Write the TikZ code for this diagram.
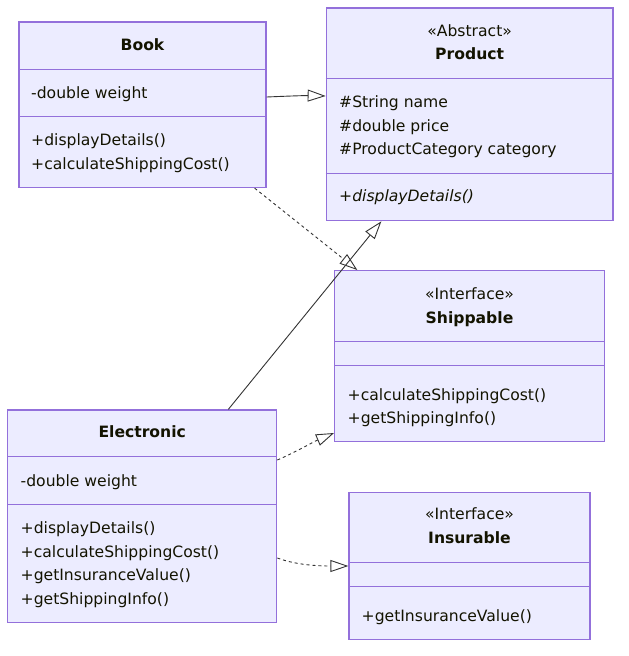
\documentclass[tikz,border=0pt]{standalone}
\usepackage{fontspec}
\setmainfont{DejaVu Sans}
\usetikzlibrary{arrows.meta,calc}
\definecolor{boxfill}{HTML}{ECECFF}
\definecolor{boxline}{HTML}{9370DB}
\definecolor{edgec}{HTML}{333333}
\definecolor{txtc}{HTML}{131300}
\begin{document}
\begin{tikzpicture}[x=1pt,y=-1pt,
 umlbox/.style={draw=boxline, fill=boxfill, line width=1.3pt, inner sep=0pt, rectangle},
 divider/.style={draw=boxline, line width=1.3pt},
 mtext/.style={anchor=base west, inner sep=0pt, text=txtc, font=\fontsize{15.6}{18}\selectfont},
 ctext/.style={anchor=base, inner sep=0pt, text=txtc, font=\fontsize{15.6}{18}\selectfont},
 ttext/.style={ctext, font=\fontsize{15.6}{18}\selectfont\bfseries},
 inh/.style={draw=edgec, line width=0.9pt, -{Triangle[length=18pt,width=12pt,fill=white]}},
 real/.style={inh, dash pattern=on 3pt off 3pt},
]
\useasboundingbox (0,0) rectangle (629,656);

% ---------- Book ----------
\node[umlbox, minimum width=247pt, minimum height=165.5pt] (book) at (142.5,104.75) {};
\draw[divider] (book.west |- 0,69.5) -- (book.east |- 0,69.5);
\draw[divider] (book.west |- 0,116.7) -- (book.east |- 0,116.7);
\node[ttext] (bookT) at (142.5,50) {Book};
\node[mtext] (bookA1) at (31,98) {-double weight};
\node[mtext] (bookM1) at (31,145.7) {+displayDetails()};
\node[mtext] (bookM2) at (31,169.3) {+calculateShippingCost()};

% ---------- Product ----------
\node[umlbox, minimum width=286.7pt, minimum height=212.7pt] (prod) at (469.65,114.35) {};
\draw[divider] (prod.west |- 0,78.7) -- (prod.east |- 0,78.7);
\draw[divider] (prod.west |- 0,173.7) -- (prod.east |- 0,173.7);
\node[ctext] (prodS) at (469.65,36.7) {«Abstract»};
\node[ttext] (prodT) at (469.65,59.3) {Product};
\node[mtext] (prodA1) at (339,107.7) {\#String name};
\node[mtext] (prodA2) at (339,131) {\#double price};
\node[mtext] (prodA3) at (339,154.3) {\#ProductCategory category};
\node[mtext] (prodM1) at (339,201.7) {\itshape +displayDetails()};

% ---------- Shippable ----------
\node[umlbox, minimum width=269.6pt, minimum height=171pt] (ship) at (469.5,356.2) {};
\draw[divider] (ship.west |- 0,341.3) -- (ship.east |- 0,341.3);
\draw[divider] (ship.west |- 0,365.3) -- (ship.east |- 0,365.3);
\node[ctext] (shipS) at (469.5,299) {«Interface»};
\node[ttext] (shipT) at (469.5,323) {Shippable};
\node[mtext] (shipM1) at (347.5,400) {+calculateShippingCost()};
\node[mtext] (shipM2) at (347.5,423.4) {+getShippingInfo()};

% ---------- Electronic ----------
\node[umlbox, minimum width=269pt, minimum height=212.3pt] (elec) at (142.2,516.15) {};
\draw[divider] (elec.west |- 0,456.7) -- (elec.east |- 0,456.7);
\draw[divider] (elec.west |- 0,504.3) -- (elec.east |- 0,504.3);
\node[ttext] (elecT) at (142.2,437.7) {Electronic};
\node[mtext] (elecA1) at (20.5,486) {-double weight};
\node[mtext] (elecM1) at (20.5,533.3) {+displayDetails()};
\node[mtext] (elecM2) at (20.5,557) {+calculateShippingCost()};
\node[mtext] (elecM3) at (20.5,580.7) {+getInsuranceValue()};
\node[mtext] (elecM4) at (20.5,604.3) {+getShippingInfo()};

% ---------- Insurable ----------
\node[umlbox, minimum width=241pt, minimum height=147pt] (ins) at (469.5,565.8) {};
\draw[divider] (ins.west |- 0,562.7) -- (ins.east |- 0,562.7);
\draw[divider] (ins.west |- 0,586.3) -- (ins.east |- 0,586.3);
\node[ctext] (insS) at (469.5,519.3) {«Interface»};
\node[ttext] (insT) at (469.5,543.3) {Insurable};
\node[mtext] (insM1) at (361.5,621.7) {+getInsuranceValue()};

% ---------- Connectors ----------
\draw[inh] (book.east |- 0,97) .. controls (290,96) and (305,95.5) .. (prod.west |- 0,96);
\draw[real] ($(book.south east)+(-12,0)$) -- ($(ship.north west)+(23.3,0)$);
\draw[inh] ($(elec.north west)+(221.3,0)$) -- ($(prod.south west)+(55.7,0)$);
\draw[real] (elec.east |- 0,460) .. controls (296,452) and (314,441.5) .. (ship.west |- 0,433);
\draw[real] (elec.east |- 0,558) .. controls (296,565) and (318,566) .. (ins.west |- 0,566);
\end{tikzpicture}
\end{document}
